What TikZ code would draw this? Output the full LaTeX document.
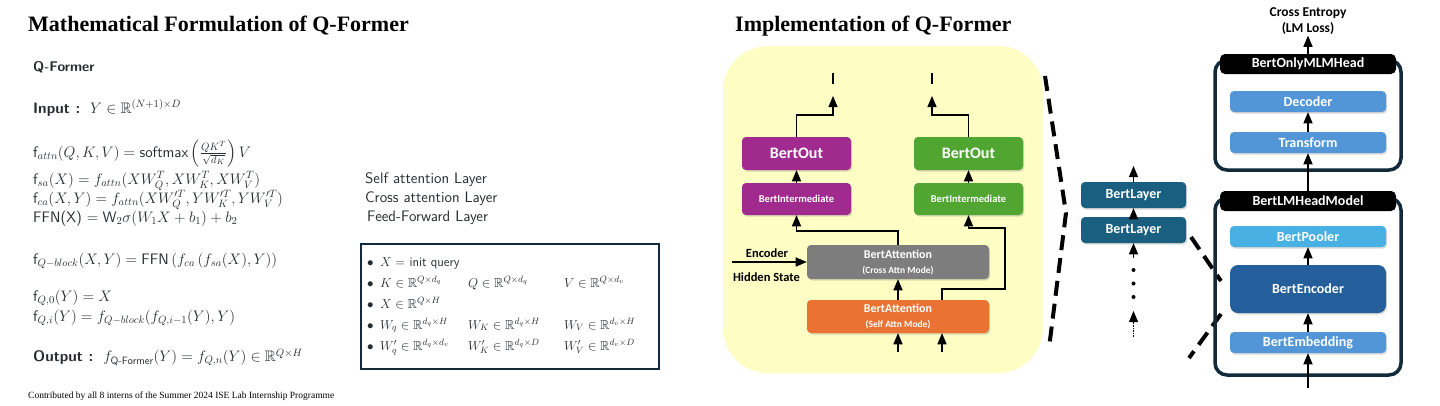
\RequirePackage{fix-cm}
\documentclass[tikz,border=0pt]{standalone}
\usepackage{amsmath,amssymb}
\usepackage{fontspec}
\newfontfamily\timesf{Liberation Serif}
\newfontfamily\calf{Carlito}
\usetikzlibrary{arrows}
\usetikzlibrary{shadows}

\definecolor{zoombg}{RGB}{253,253,196}
\definecolor{bertpurple}{RGB}{160,42,142}
\definecolor{bertgreen}{RGB}{80,166,48}
\definecolor{bertgray}{RGB}{125,125,125}
\definecolor{bertorange}{RGB}{234,115,52}
\definecolor{layerteal}{RGB}{26,95,128}
\definecolor{modelnavy}{RGB}{18,42,58}
\definecolor{headblue}{RGB}{82,150,216}
\definecolor{poolblue}{RGB}{72,176,226}
\definecolor{encblue}{RGB}{37,95,155}
\definecolor{txtgray}{RGB}{40,44,48}

\tikzset{
  arr/.style={-triangle 45, line width=1.6},
  bert/.style={rounded corners=4, text=white, inner sep=1, align=center,
    font=\calf\bfseries\fontsize{14}{15}\selectfont,
    drop shadow={opacity=0.3, shadow xshift=1.2, shadow yshift=-1.5}},
  zoomline/.style={line width=4, dash pattern=on 15 off 8},
  modelbox/.style={draw=modelnavy, line width=3.5, rounded corners=12, minimum width=186},
  headbox/.style={fill=black, rounded corners=5, text=white, minimum width=176, minimum height=20,
    inner sep=1, font=\calf\bfseries\fontsize{14}{15}\selectfont},
  lefttxt/.style={anchor=base west, inner sep=0, text=txtgray, font=\sffamily\fontsize{15.2}{18}\selectfont},
  boxtxt/.style={anchor=base west, inner sep=0, text=txtgray, font=\sffamily\fontsize{13}{15}\selectfont},
}

\begin{document}
\begin{tikzpicture}[x=1pt,y=1pt,yscale=-1,xscale=1]
\useasboundingbox (0,0) rectangle (1440,405);

%%%%%%%% left half: formulas

% Text Node
\draw (28,31.5) node [anchor=base west][inner sep=0] [font=\timesf\bfseries\fontsize{22}{26}\selectfont] (ttlMath) {Mathematical Formulation of Q-Former};
% Text Node
\draw (33,71.7) node [lefttxt, font=\sffamily\bfseries\fontsize{14}{17}\selectfont] (qfHead) {Q-Former};
% Text Node
\draw (33,113) node [lefttxt] (inLine) {\textbf{Input :}\ \ $Y\in\mathbb{R}^{(N+1)\times D}$};
% Text Node
\draw (33,157) node [lefttxt] (fAttn) {$\textsf{f}_{attn}(Q,K,V)=\textsf{softmax}\left(\frac{QK^T}{\sqrt{d_K}}\right)V$};
% Text Node
\draw (33,184) node [lefttxt] (fSa) {$\textsf{f}_{sa}(X)=f_{attn}(XW_Q^T,XW_K^T,XW_V^T)$};
% Text Node
\draw (33,203) node [lefttxt] (fCa) {$\textsf{f}_{ca}(X,Y)=f_{attn}(XW_Q'^T,YW_K'^T,YW_V'^T)$};
% Text Node
\draw (33,222) node [lefttxt] (fFfn) {FFN(X) $=\textsf{W}_2\sigma(W_1X+b_1)+b_2$};
% Text Node
\draw (365,183.3) node [lefttxt] (lblSa) {Self attention Layer};
% Text Node
\draw (365,202.3) node [lefttxt] (lblCa) {Cross attention Layer};
% Text Node
\draw (367,221.7) node [lefttxt] (lblFfn) {Feed-Forward Layer};
% Text Node
\draw (33,264) node [lefttxt] (fBlk) {$\textsf{f}_{Q-block}(X,Y)=\textsf{FFN}\left(f_{ca}\left(f_{sa}(X),Y\right)\right)$};
% Text Node
\draw (33,301.7) node [lefttxt] (fQz) {$\textsf{f}_{Q,0}(Y)=X$};
% Text Node
\draw (33,321.7) node [lefttxt] (fQi) {$\textsf{f}_{Q,i}(Y)=f_{Q-block}(f_{Q,i-1}(Y),Y)$};
% Text Node
\draw (33,361.7) node [lefttxt] (outLine) {\textbf{Output :}\ \ $f_{\textsf{Q-Former}}(Y)=f_{Q,n}(Y)\in\mathbb{R}^{Q\times H}$};
% Text Node
\draw (28,398) node [anchor=base west][inner sep=0] [font=\timesf\fontsize{9.5}{11}\selectfont] (credit) {Contributed by all 8 interns of the Summer 2024 ISE Lab Internship Programme};

%Shape: Rectangle (symbols)
\draw (360,243) node [anchor=north west, draw=modelnavy, line width=2, minimum width=298, minimum height=125, inner sep=0] (symBox) {};
\foreach \y [count=\i] in {266,287,308,329,350}
  \draw (367,\y) node [boxtxt] (bul\i) {$\bullet$};
% Text Node
\draw (380,266) node [boxtxt] (symX) {$X=$ init query};
\draw (380,287) node [boxtxt] (symK) {$K\in\mathbb{R}^{Q\times d_q}$};
\draw (468,287) node [boxtxt] (symQ) {$Q\in\mathbb{R}^{Q\times d_q}$};
\draw (564,287) node [boxtxt] (symV) {$V\in\mathbb{R}^{Q\times d_v}$};
\draw (380,308) node [boxtxt] (symXq) {$X\in\mathbb{R}^{Q\times H}$};
\draw (380,329) node [boxtxt] (symWq) {$W_q\in\mathbb{R}^{d_q\times H}$};
\draw (468,329) node [boxtxt] (symWk) {$W_K\in\mathbb{R}^{d_q\times H}$};
\draw (564,329) node [boxtxt] (symWv) {$W_V\in\mathbb{R}^{d_v\times H}$};
\draw (380,350) node [boxtxt] (symWqp) {$W'_q\in\mathbb{R}^{d_q\times d_v}$};
\draw (468,350) node [boxtxt] (symWkp) {$W'_K\in\mathbb{R}^{d_q\times D}$};
\draw (564,350) node [boxtxt] (symWvp) {$W'_V\in\mathbb{R}^{d_v\times D}$};

%%%%%%%% right half: implementation

% Text Node
\draw (735,31.5) node [anchor=base west][inner sep=0] [font=\timesf\bfseries\fontsize{22}{26}\selectfont] (ttlImpl) {Implementation of Q-Former};

%Shape: Rounded Rect (zoomed BertLayer)
\fill [zoombg, rounded corners=45] (723,46) rectangle (1043,373);

%Shape: Boxes of one layer
\draw (796.5,153.5) node [bert, fill=bertpurple, minimum width=109, minimum height=33, font=\calf\bfseries\fontsize{16}{18}\selectfont] (outP) {BertOut};
\draw (796.5,199) node [bert, fill=bertpurple, minimum width=109, minimum height=32, font=\calf\bfseries\fontsize{10.5}{12}\selectfont] (intP) {BertIntermediate};
\draw (968.5,153.5) node [bert, fill=bertgreen, minimum width=109, minimum height=33, font=\calf\bfseries\fontsize{16}{18}\selectfont] (outG) {BertOut};
\draw (968.5,199) node [bert, fill=bertgreen, minimum width=109, minimum height=32, font=\calf\bfseries\fontsize{10.5}{12}\selectfont] (intG) {BertIntermediate};
\draw (898,262) node [bert, fill=bertgray, minimum width=182, minimum height=34, font=\calf\bfseries\fontsize{12}{15}\selectfont] (attC) {BertAttention\\{\fontsize{9.5}{11}\selectfont (Cross Attn Mode)}};
\draw (898,316.5) node [bert, fill=bertorange, minimum width=182, minimum height=33, font=\calf\bfseries\fontsize{12}{15}\selectfont] (attS) {BertAttention\\{\fontsize{9.5}{11}\selectfont (Self Attn Mode)}};

% Text Node
\draw (767,253) node [inner sep=0] [font=\calf\bfseries\fontsize{12.5}{14}\selectfont] (encTxt) {Encoder};
\draw (766.5,277) node [inner sep=0] [font=\calf\bfseries\fontsize{12.5}{14}\selectfont] (hidTxt) {Hidden State};

%Straight Lines
\coordinate (encIn) at (732,262);
\coordinate (inA) at (898,352);
\coordinate (inB) at (942,352);
\coordinate (upL) at (833,96);
\coordinate (upR) at (932,96);
\coordinate (bendR) at (1005,228);
\draw [arr] (encIn) -- (attC.west);
\draw [arr] (inA) -- (attS.south);
\draw [arr] (inB) -- (inB |- attS.south);
\draw [arr] (attS.north) -- (attC.south);
\draw [arr] (attC.north) -- ++(0,-14) -| (intP.south);
\draw [arr] ([xshift=44]attS.north) -- ++(0,-11) -| (bendR) -| (intG.south);
\draw [arr] (intP.north) -- (outP.south);
\draw [arr] (intG.north) -- (outG.south);
\draw [arr] (outP.north) -- ++(0,-22) -| (upL);
\draw [arr] (outG.north) -- ++(0,-22) -| (upR);
\draw [line width=1.6] (833,73) -- (833,84);
\draw [line width=1.6] (932,73) -- (932,84);

%Shape: Layer stack
\draw (1133.5,195) node [bert, fill=layerteal, minimum width=105, minimum height=26] (lay1) {BertLayer};
\draw (1133.5,230) node [bert, fill=layerteal, minimum width=105, minimum height=26] (lay2) {BertLayer};
\coordinate (layTop) at (1133.5,166);
\coordinate (layIn) at (1133.5,258);
\coordinate (layLow) at (1133.5,337);
\coordinate (layTip) at (1133.5,311);
\draw [arr] (lay2.north) -- (lay1.south);
\draw [arr] (lay1.north) -- (layTop);
\draw [arr] (layIn) -- (lay2.south);
\foreach \y [count=\i] in {270,283.5,297}
  \draw (1133.5,\y) node [circle, fill=black, inner sep=0, minimum size=4] (dot\i) {};
\draw [arr, densely dotted] (layLow) -- (layTip);

%Straight Lines (zoom marks)
\coordinate (zl1) at (1045,76);
\coordinate (zl2) at (1066,213);
\coordinate (zl3) at (1049,348);
\coordinate (zr1) at (1191,237);
\coordinate (zr2) at (1221,281);
\coordinate (zr3) at (1221,314);
\coordinate (zr4) at (1189,358);
\draw [zoomline] (zl1) -- (zl2) -- (zl3);
\draw [zoomline] (zr1) -- (zr2);
\draw [zoomline] (zr3) -- (zr4);

%Shape: BertOnlyMLMHead
\draw (1308,115) node [modelbox, minimum height=110] (mlmBox) {};
\draw (1308,64) node [headbox] (mlmHead) {BertOnlyMLMHead};
\draw (1308,101.5) node [bert, fill=headblue, minimum width=156, minimum height=21] (dec) {Decoder};
\draw (1308,142.5) node [bert, fill=headblue, minimum width=156, minimum height=21] (trans) {Transform};

%Shape: BertLMHeadModel
\draw (1308,286.5) node [modelbox, minimum height=177] (lmBox) {};
\draw (1308,201) node [headbox] (lmHead) {BertLMHeadModel};
\draw (1308,236.5) node [bert, fill=poolblue, minimum width=156, minimum height=21] (pool) {BertPooler};
\draw (1308,289) node [bert, fill=encblue, rounded corners=8, minimum width=156, minimum height=48] (enc) {BertEncoder};
\draw (1308,342.5) node [bert, fill=headblue, minimum width=156, minimum height=21] (emb) {BertEmbedding};

% Text Node
\draw (1308,21) node [align=center, inner sep=1] [font=\calf\bfseries\fontsize{13.5}{16}\selectfont] (loss) {Cross Entropy\\(LM Loss)};

%Straight Lines
\coordinate (embIn) at (1308,388);
\draw [arr] (embIn) -- (emb.south);
\draw [arr] (emb.north) -- (enc.south);
\draw [arr] (enc.north) -- (pool.south);
\draw [arr] (lmHead.north) -- (trans.south);
\draw [arr] (trans.north) -- (dec.south);
\draw [arr] (mlmHead.north) -- (loss.south);

\end{tikzpicture}
\end{document}
